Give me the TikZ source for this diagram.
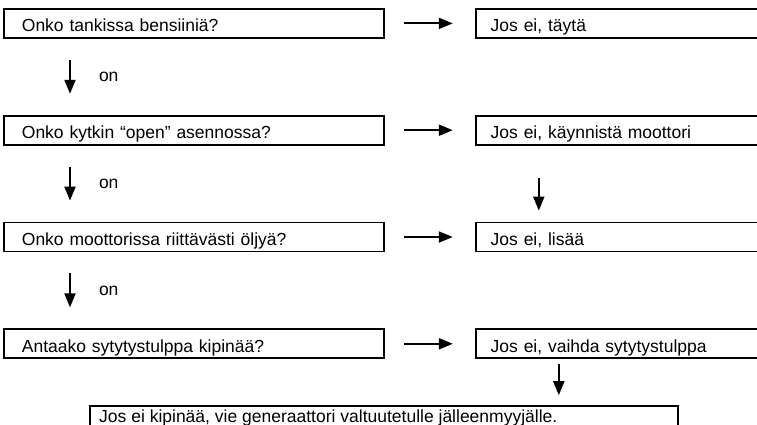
\documentclass[tikz,border=0pt]{standalone}
\usepackage{fontspec}
\setmainfont{Liberation Sans}
\usetikzlibrary{arrows.meta,positioning,calc}

\begin{document}
\begin{tikzpicture}[
    node distance=76pt and 90pt,
    every node/.style={font=\fontsize{17.5}{20}\selectfont},
    checkbox/.style={
      rectangle, draw, line width=1.8pt,
      minimum height=29pt, inner ysep=5pt,
      text height=17pt, text depth=0pt, align=left
    },
    askbox/.style={checkbox, inner xsep=18pt, text width=344pt},
    fixbox/.style={checkbox, inner xsep=15pt, text width=253pt},
    lastbox/.style={rectangle, draw, line width=1.8pt, minimum width=588pt, minimum height=32pt},
    lasttext/.style={anchor=base west, inner sep=0pt},
    arr/.style={-{Triangle[length=14pt, width=11pt]}, line width=2pt},
    onlabel/.style={midway, anchor=west, inner sep=0pt, xshift=28pt}
  ]
    % ── Frame ──
    \useasboundingbox (0,0) rectangle (757pt,-425pt);
    \clip (0,0) rectangle (757pt,-425pt);

    % ── Questions ──
    \node[askbox, anchor=north west] (q1) at (3pt,-8pt) {Onko tankissa bensiiniä?};
    \node[askbox, below=of q1] (q2) {Onko kytkin “open” asennossa?};
    \node[askbox, below=of q2] (q3) {Onko moottorissa riittävästi öljyä?};
    \node[askbox, below=of q3] (q4) {Antaako sytytystulppa kipinää?};

    % ── Remedies ──
    \node[fixbox, right=of q1] (r1) {Jos ei, täytä};
    \node[fixbox, right=of q2] (r2) {Jos ei, käynnistä moottori};
    \node[fixbox, right=of q3] (r3) {Jos ei, lisää};
    \node[fixbox, right=of q4] (r4) {Jos ei, vaihda sytytystulppa};

    % ── Last step (runs off the bottom edge) ──
    \node[lastbox, below=46pt of q4.south west, anchor=north west, xshift=86pt] (last) {};
    \node[lasttext] (lasttxt) at ([xshift=10pt, yshift=-17pt]last.north west)
      {Jos ei kipinää, vie generaattori valtuutetulle jälleenmyyjälle.};

    % ── Arrows: question -> remedy ──
    \foreach \i in {1,...,4}
      \draw[arr, shorten <=19pt, shorten >=22pt] (q\i) -- (r\i);

    % ── Arrows: question -> next question ──
    \draw[arr, shorten <=21pt, shorten >=21pt] ([xshift=67pt]q1.south west) -- ([xshift=67pt]q2.north west) node[onlabel] {on};
    \draw[arr, shorten <=21pt, shorten >=21pt] ([xshift=67pt]q2.south west) -- ([xshift=67pt]q3.north west) node[onlabel] {on};
    \draw[arr, shorten <=21pt, shorten >=21pt] ([xshift=67pt]q3.south west) -- ([xshift=67pt]q4.north west) node[onlabel] {on};

    % ── Arrows: remedy -> next step ──
    \draw[arr, shorten <=32pt, shorten >=11pt] ([xshift=64pt]r2.south west) -- ([xshift=64pt]r3.north west);
    \draw[arr, shorten <=5pt, shorten >=10pt] ([xshift=84pt]r4.south west) -- ([xshift=84pt]r4.south west |- last.north);

  \end{tikzpicture}
\end{document}
